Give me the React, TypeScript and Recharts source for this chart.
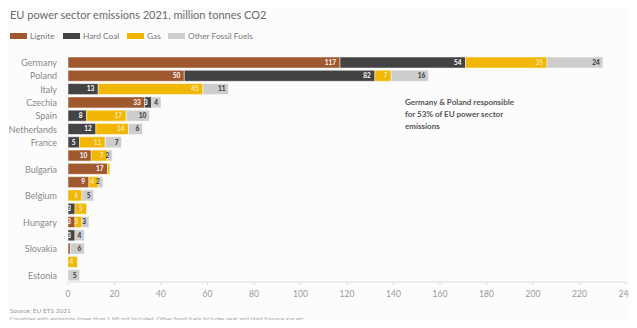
import React from 'react';
import { BarChart, Bar, XAxis, YAxis, LabelList } from 'recharts';

const countries = ['Germany', 'Poland', 'Italy', 'Czechia', 'Spain', 'Netherlands', 'France', 'Greece', 'Bulgaria', 'Romania', 'Belgium', 'Ireland', 'Hungary', 'Finland', 'Slovakia', 'Portugal', 'Estonia'];
const shownLabels = ['Germany', 'Poland', 'Italy', 'Czechia', 'Spain', 'Netherlands', 'France', 'Bulgaria', 'Belgium', 'Hungary', 'Slovakia', 'Estonia'];
const lignite = [117, 50, 0, 33, 0, 0, 0, 10, 17, 9, 0, 0, 3, 0, 1, 0, 0];
const hardCoal = [54, 82, 13, 3, 8, 12, 5, 0, 0, 0, 0, 3, 0, 3, 0, 0, 0];
const gas = [35, 7, 45, 0, 17, 14, 11, 7, 1, 4, 6, 5, 3, 0, 0, 4, 0];
const otherFossil = [24, 16, 11, 4, 10, 6, 7, 2, 0, 2, 5, 0, 3, 4, 6, 0, 5];
const xTicks = [0, 20, 40, 60, 80, 100, 120, 140, 160, 180, 200, 220, 240];

const seriesNames = ['Lignite', 'Hard Coal', 'Gas', 'Other Fossil Fuels'];
const seriesColors = ['#a0582e', '#434343', '#f2b705', '#cdcdcd'];
const legendLeft = [10, 63, 127, 168];

const data = countries.map((name, i) => ({
  name,
  lignite: lignite[i],
  hardCoal: hardCoal[i],
  gas: gas[i],
  other: otherFossil[i],
}));

const FONT = 'Lato, "Open Sans", sans-serif';

const fmt = (v: any) => (v && v >= 2 ? v : '');

const YTick = (props: any) => {
  const { x, y, payload } = props;
  if (!shownLabels.includes(payload.value)) return null;
  return (
    <text x={x} y={y} dy={3.5} textAnchor="end" fontSize={9} fill="#8a8a8a" fontFamily={FONT}>
      {payload.value}
    </text>
  );
};

export default function App() {
  return (
    <div style={{ position: 'relative', width: 637, height: 328, margin: -8, background: '#fcfcfc', fontFamily: FONT, overflow: 'hidden' }}>
      <div style={{ position: 'absolute', left: 10, top: 8, fontSize: 11, color: '#6a6a6a', whiteSpace: 'nowrap' }}>
        EU power sector emissions 2021, million tonnes CO2
      </div>
      {seriesNames.map((n, i) => (
        <div key={n} style={{ position: 'absolute', left: legendLeft[i], top: 30, display: 'flex', alignItems: 'center', fontSize: 8.3, color: '#777', whiteSpace: 'nowrap', height: 11 }}>
          <div style={{ width: 17, height: 6, background: seriesColors[i], marginRight: 3 }} />
          <span>{n}</span>
        </div>
      ))}
      <div style={{ position: 'absolute', left: 0, top: 0 }}>
        <BarChart
          width={637}
          height={304}
          data={data}
          layout="vertical"
          margin={{ top: 56, right: 11, left: 0, bottom: 0 }}
          barCategoryGap={1}
        >
          <XAxis
            type="number"
            domain={[0, 240]}
            ticks={xTicks}
            axisLine={{ stroke: '#dedede' }}
            tickLine={{ stroke: '#dedede' }}
            tickSize={3}
            tickMargin={6}
            tick={{ fontSize: 8.5, fill: '#9a9a9a', fontFamily: FONT }}
            height={22}
          />
          <YAxis
            type="category"
            dataKey="name"
            width={68}
            axisLine={false}
            tickLine={false}
            tick={<YTick />}
            interval={0}
            tickMargin={5}
          />
          <Bar dataKey="lignite" stackId="a" fill={seriesColors[0]} isAnimationActive={false} stroke="#fcfcfc" strokeWidth={0.5}>
            <LabelList dataKey="lignite" position="insideRight" formatter={fmt} fill="#fff" fontSize={6.5} fontWeight="bold" fontFamily={FONT} offset={4} />
          </Bar>
          <Bar dataKey="hardCoal" stackId="a" fill={seriesColors[1]} isAnimationActive={false} stroke="#fcfcfc" strokeWidth={0.5}>
            <LabelList dataKey="hardCoal" position="insideRight" formatter={fmt} fill="#fff" fontSize={6.5} fontWeight="bold" fontFamily={FONT} offset={4} />
          </Bar>
          <Bar dataKey="gas" stackId="a" fill={seriesColors[2]} isAnimationActive={false} stroke="#fcfcfc" strokeWidth={0.5}>
            <LabelList dataKey="gas" position="insideRight" formatter={fmt} fill="#fbe9b0" fontSize={6.5} fontWeight="bold" fontFamily={FONT} offset={4} />
          </Bar>
          <Bar dataKey="other" stackId="a" fill={seriesColors[3]} isAnimationActive={false} stroke="#fcfcfc" strokeWidth={0.5}>
            <LabelList dataKey="other" position="insideRight" formatter={fmt} fill="#333" fontSize={6.5} fontWeight="bold" fontFamily={FONT} offset={3} />
          </Bar>
        </BarChart>
      </div>
      <div style={{ position: 'absolute', left: 405, top: 96, fontSize: 8, fontWeight: 'bold', color: '#555', lineHeight: '12px' }}>
        Germany &amp; Poland responsible<br />for 53% of EU power sector<br />emissions
      </div>
      <div style={{ position: 'absolute', left: 10, top: 306, color: '#999', whiteSpace: 'nowrap' }}>
        <div style={{ fontSize: 6.5, lineHeight: '9px' }}>Source: EU ETS 2021</div>
        <div style={{ fontSize: 6, lineHeight: '8px', color: '#a8a8a8' }}>
          Countries with emissions lower than 1 Mt not included. Other fossil fuels includes peat and blast furnace gas etc.
        </div>
      </div>
    </div>
  );
}
